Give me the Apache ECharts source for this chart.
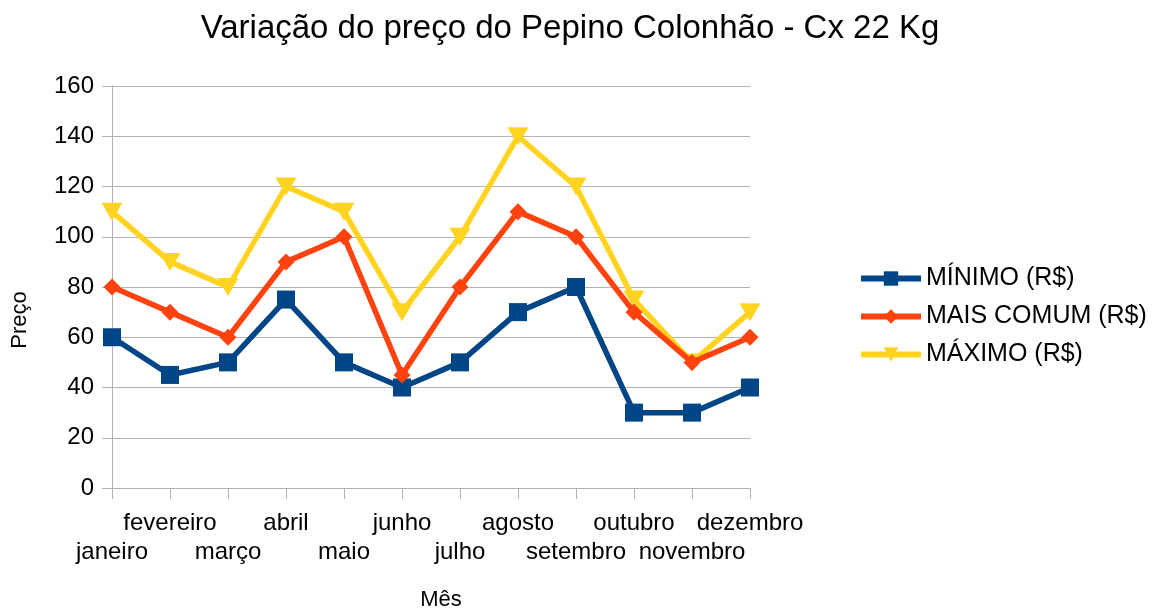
<!DOCTYPE html>
<html>
<head>
<meta charset="utf-8">
<script src="https://cdn.jsdelivr.net/npm/echarts@6/dist/echarts.min.js"></script>
<style>
  html, body { margin: 0; padding: 0; background: #fff; }
  #main { width: 1159px; height: 612px; }
</style>
</head>
<body>
<div id="main"></div>
<script>
const months = ['janeiro', 'fevereiro', 'março', 'abril', 'maio', 'junho', 'julho', 'agosto', 'setembro', 'outubro', 'novembro', 'dezembro'];
const minimo = [60, 45, 50, 75, 50, 40, 50, 70, 80, 30, 30, 40];
const maisComum = [80, 70, 60, 90, 100, 45, 80, 110, 100, 70, 50, 60];
const maximo = [110, 90, 80, 120, 110, 70, 100, 140, 120, 75, 50, 70];

const font = 'Liberation Sans';

let myChart = echarts.init(document.getElementById('main'));

let option = {
  animation: false,
  textStyle: { fontFamily: font },
  graphic: [
    {
      type: 'text', x: 570, y: 29,
      style: { text: 'Variação do preço do Pepino Colonhão - Cx 22 Kg', font: '33px "Liberation Sans"', fill: '#000', align: 'center', verticalAlign: 'middle' }
    },
    {
      type: 'text', x: 20, y: 320, rotation: Math.PI / 2,
      style: { text: 'Preço', font: '22px "Liberation Sans"', fill: '#000', align: 'center', verticalAlign: 'middle' }
    },
    {
      type: 'text', x: 441, y: 600,
      style: { text: 'Mês', font: '22px "Liberation Sans"', fill: '#000', align: 'center', verticalAlign: 'middle' }
    }
  ],
  grid: { left: 112, right: 409, top: 86, bottom: 124, containLabel: false },
  legend: {
    orient: 'vertical',
    left: 853,
    top: 261,
    itemWidth: 60,
    itemHeight: 18,
    itemGap: 13,
    lineStyle: { width: 6 },
    textStyle: { fontFamily: font, fontSize: 25, color: '#000' },
    data: ['MÍNIMO (R$)', 'MAIS COMUM (R$)', 'MÁXIMO (R$)']
  },
  xAxis: {
    type: 'category',
    data: months,
    boundaryGap: false,
    axisLine: { lineStyle: { color: '#b3b3b3', width: 1 } },
    axisTick: { show: true, length: 11, interval: 0, lineStyle: { color: '#b3b3b3' } },
    axisLabel: {
      interval: 0,
      margin: 21,
      fontSize: 24,
      lineHeight: 29,
      color: '#000',
      fontFamily: font,
      formatter: (v, i) => (i % 2 === 0 ? '\n' + v : v)
    },
    splitLine: { show: false }
  },
  yAxis: {
    type: 'value',
    min: 0,
    max: 160,
    interval: 20,
    axisLine: { show: true, lineStyle: { color: '#b3b3b3', width: 1 } },
    axisTick: { show: true, length: 10, lineStyle: { color: '#b3b3b3' } },
    axisLabel: { fontSize: 24, color: '#000', margin: 18, fontFamily: font },
    splitLine: { lineStyle: { color: '#b3b3b3', width: 1 } }
  },
  series: [
    {
      name: 'MÍNIMO (R$)',
      type: 'line',
      data: minimo,
      color: '#004586',
      symbol: 'rect',
      symbolSize: 18,
      lineStyle: { width: 5.5 },
      z: 3
    },
    {
      name: 'MAIS COMUM (R$)',
      type: 'line',
      data: maisComum,
      color: '#ff420e',
      symbol: 'diamond',
      symbolSize: 17,
      lineStyle: { width: 5.5 },
      z: 4
    },
    {
      name: 'MÁXIMO (R$)',
      type: 'line',
      data: maximo,
      color: '#ffd320',
      symbol: 'triangle',
      symbolRotate: 180,
      symbolSize: [21, 18],
      lineStyle: { width: 5.5 },
      z: 2
    }
  ]
};
myChart.setOption(option);
</script>
</body>
</html>
